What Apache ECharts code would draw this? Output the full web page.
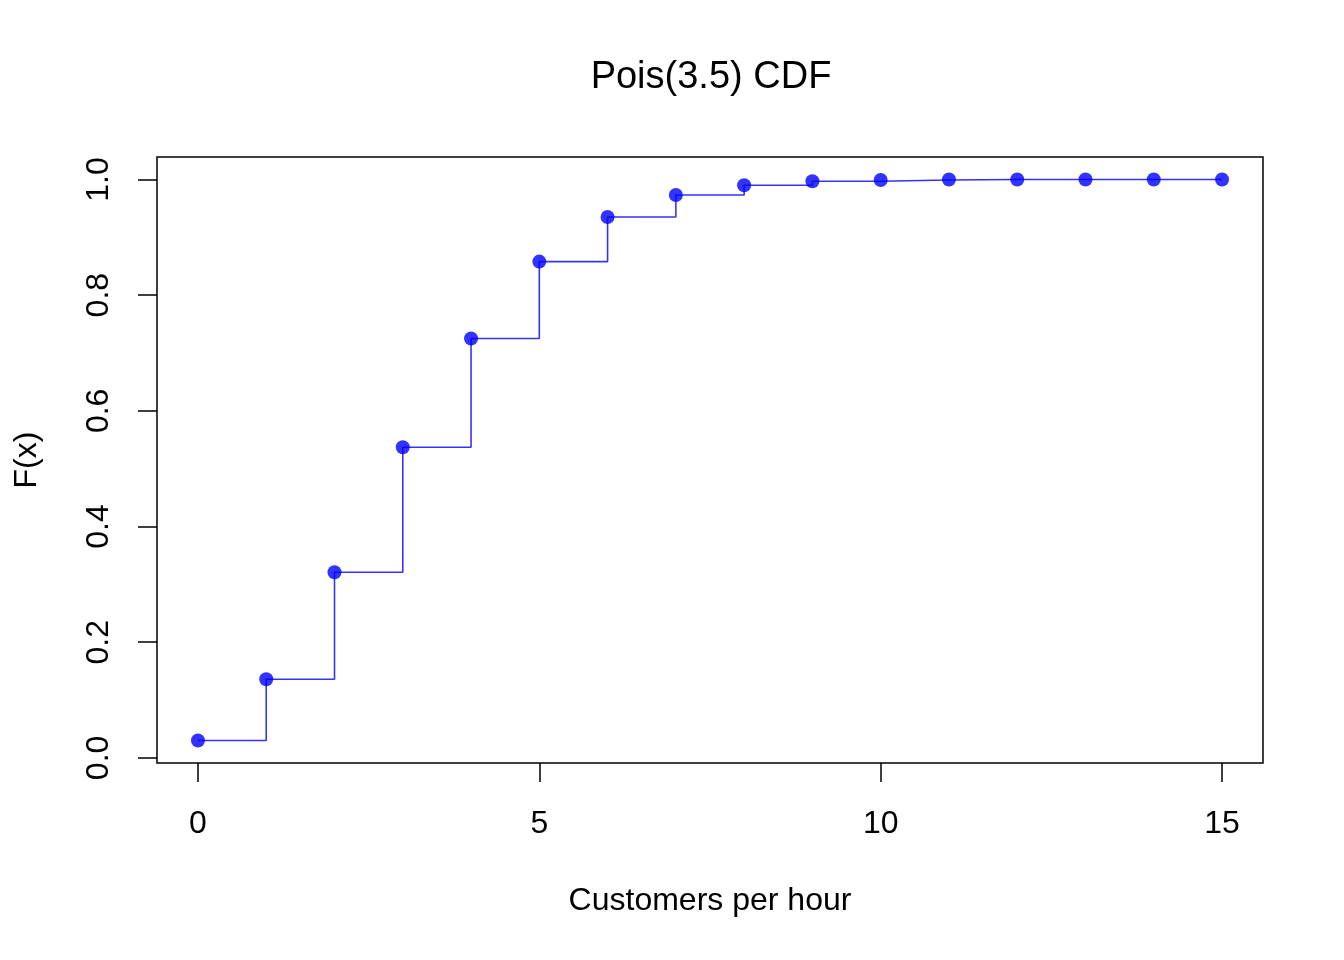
<!DOCTYPE html>
<html>
<head>
<meta charset="utf-8">
<script src="https://cdn.jsdelivr.net/npm/echarts@6/dist/echarts.min.js"></script>
<style>
html,body{margin:0;padding:0;background:#fff;}
#chart{width:1344px;height:960px;}
</style>
</head>
<body>
<div id="chart"></div>
<script>
const customers = [0,1,2,3,4,5,6,7,8,9,10,11,12,13,14,15];
const cdfValues = [0.030,0.136,0.321,0.537,0.725,0.858,0.935,0.973,0.990,0.997,0.999,1.000,1.000,1.000,1.000,1.000];
const xTicks = [0,5,10,15];
const yTicks = [0,0.2,0.4,0.6,0.8,1.0];
const titleText = 'Pois(3.5) CDF';
const xName = 'Customers per hour';
const yName = 'F(x)';

const FONT = '"Liberation Sans", Arial, Helvetica, sans-serif';
const blue = 'rgba(0,0,255,0.8)';

const chart = echarts.init(document.getElementById('chart'), null, {renderer:'canvas'});
chart.setOption({
  animation:false,
  backgroundColor:'#ffffff',
  title:{
    text:titleText,
    left:706, textAlign:'center',
    top:54,
    textStyle:{fontFamily:FONT,fontSize:38,fontWeight:'normal',color:'#000'}
  },
  grid:{
    left:157, right:81, top:157, bottom:197,
    show:true, borderColor:'#000', borderWidth:1.5, backgroundColor:'transparent'
  },
  xAxis:{
    type:'value', min:-0.6, max:15.6,
    name:xName, nameLocation:'middle', nameGap:122,
    nameTextStyle:{fontFamily:FONT,fontSize:32,color:'#000'},
    axisLine:{show:false,onZero:false},
    splitLine:{show:false},
    axisTick:{show:true,length:19,inside:false,customValues:xTicks,lineStyle:{color:'#000',width:1.5}},
    axisLabel:{show:true,customValues:xTicks,margin:45,fontFamily:FONT,fontSize:32,color:'#000'}
  },
  yAxis:{
    type:'value', min:-0.0088, max:1.0388,
    name:yName, nameLocation:'middle', nameGap:114, nameRotate:90,
    nameTextStyle:{fontFamily:FONT,fontSize:32,color:'#000'},
    axisLine:{show:false,onZero:false},
    splitLine:{show:false},
    axisTick:{show:true,length:19,inside:false,customValues:yTicks,lineStyle:{color:'#000',width:1.5}},
    axisLabel:{show:true,customValues:yTicks,rotate:90,margin:42,fontFamily:FONT,fontSize:32,color:'#000',
      formatter:function(v){return v.toFixed(1);}}
  },
  series:[{
    type:'line',
    step:'end',
    data:customers.map((x,i)=>[x,cdfValues[i]]),
    showSymbol:true,
    symbol:'circle',
    symbolSize:14,
    lineStyle:{color:blue,width:1.6},
    itemStyle:{color:blue,borderWidth:0},
    emphasis:{disabled:true}
  }]
});
</script>
</body>
</html>
